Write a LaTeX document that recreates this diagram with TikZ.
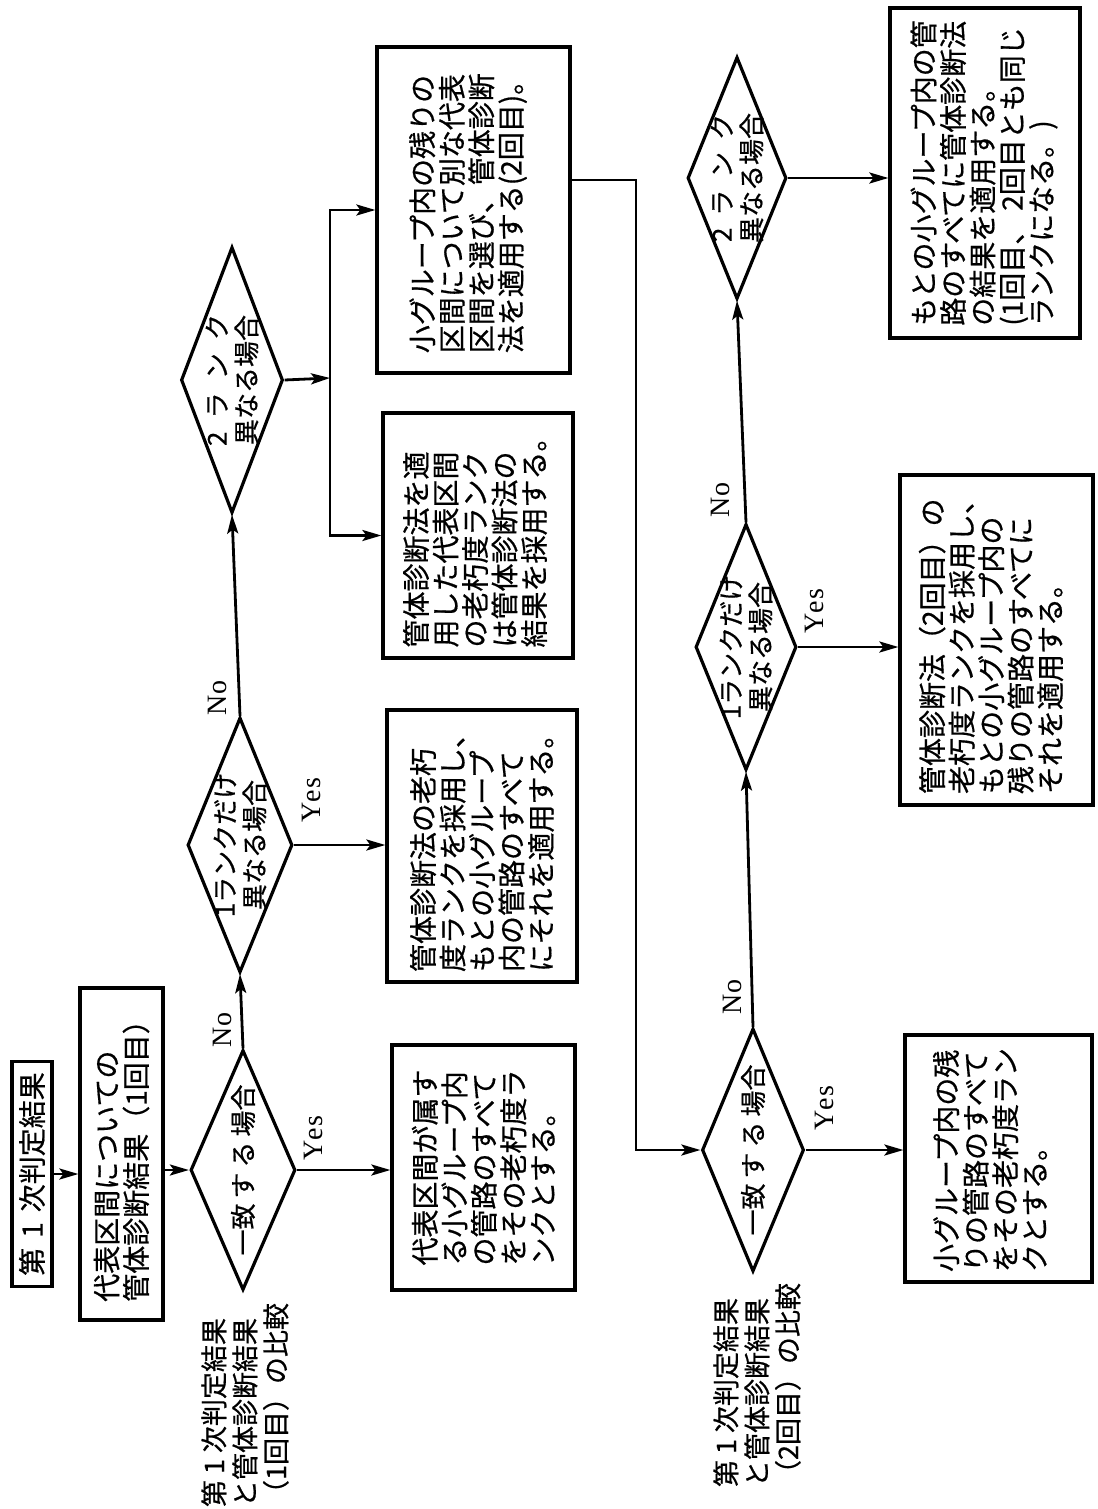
\documentclass[tikz,border=0pt]{standalone}
\usepackage{fontspec}
\newfontfamily\jpfam[FakeBold=0.6]{Noto Sans CJK JP}
\newfontfamily\latfam[LetterSpace=6]{Liberation Serif}
\usetikzlibrary{shapes.geometric,arrows.meta}
\newcommand\jptext{\jpfam\fontsize{28}{29.5}\selectfont}
\newcommand\jpdia{\jpfam\fontsize{26}{29.5}\selectfont}
\tikzset{
  frame/.style={draw, line width=3.2pt, rectangle, inner sep=0pt},
  dia/.style={draw, line width=3.2pt, diamond, inner sep=0pt},
  txt/.style={rotate=90, align=left, font=\jptext, inner sep=0pt},
  ctxt/.style={rotate=90, align=center, font=\jpdia, inner sep=0pt},
  lab/.style={rotate=90, font=\latfam\fontsize{28}{32}\selectfont, inner sep=0pt},
  arr/.style={line width=2.8pt, -{Stealth[length=19pt,width=11pt,inset=4pt]}}
}
\begin{document}
\begin{tikzpicture}[x=1pt,y=-1pt]
\useasboundingbox (0,0) rectangle (1097,1509);

% ---------- first row (left) ----------
\node[frame, minimum width=40pt, minimum height=225pt] (b1) at (32,1174) {};
\node[txt] (t1) at (b1) {第\hspace{10pt}1\hspace{10pt}次判定結果};

\node[frame, minimum width=83pt, minimum height=332pt] (b2) at (121.5,1154) {};
\node[txt] (t2) at (b2) {代表区間についての\\管体診断結果（1回目）};

\node[dia, minimum width=105pt, minimum height=240pt] (d1) at (243,1170) {};
\node[ctxt] (td1) at (d1) {一致\hspace{5pt}す\hspace{5pt}る\hspace{5pt}場合};
\node[txt, font=\jpfam\fontsize{27}{31}\selectfont] (l1) at (245,1405) {第\hspace{6pt}1\hspace{6pt}次判定結果\\と管体診断結果\\（1回目）の比較};

\node[frame, minimum width=183pt, minimum height=245pt] (b4) at (483.5,1167.5) {};
\node[txt] (t4) at (b4) {代表区間が属す\\る小グループ内\\の管路のすべて\\をその老朽度ラ\\ンクとする。};

\node[dia, minimum width=105pt, minimum height=255pt] (d2) at (240,845) {};
\node[ctxt] (td2) at (d2) {1ランクだけ\\異なる場合};

\node[frame, minimum width=190pt, minimum height=272pt] (b6) at (482,846) {};
\node[txt] (t6) at (b6) {管体診断法の老朽\\度ランクを採用し、\\もとの小グループ\\内の管路のすべて\\にそれを適用する。};

\node[dia, minimum width=102pt, minimum height=266pt] (d3) at (232,380) {};
\node[ctxt] (td3) at (d3) {\makebox[132pt]{2\hfill ラ\hfill ン\hfill ク}\\異なる場合};

\node[frame, minimum width=190pt, minimum height=245pt] (b7) at (478,535.5) {};
\node[txt] (t7) at (475,535.5) {管体診断法を適\\用した代表区間\\の老朽度ランク\\は管体診断法の\\結果を採用する。};

\node[frame, minimum width=193pt, minimum height=326pt] (b8) at (473.5,210) {};
\node[txt] (t8) at (468,210) {小グループ内の残りの\\区間について別な代表\\区間を選び、管体診断\\法を適用する(2回目)。};

% ---------- second row (right) ----------
\node[dia, minimum width=102pt, minimum height=243pt] (d4) at (753,1150) {};
\node[ctxt] (td4) at (d4) {一致\hspace{5pt}す\hspace{5pt}る\hspace{5pt}場合};
\node[txt, font=\jpfam\fontsize{27}{31}\selectfont] (l2) at (757,1385) {第\hspace{6pt}1\hspace{6pt}次判定結果\\と管体診断結果\\（2回目）の比較};

\node[frame, minimum width=187pt, minimum height=247pt] (b9) at (998.5,1158.5) {};
\node[txt] (t9) at (990,1160) {小グループ内の残\\りの管路のすべて\\をその老朽度ラン\\クとする。};

\node[dia, minimum width=101pt, minimum height=246pt] (d5) at (746,647) {};
\node[ctxt] (td5) at (d5) {1ランクだけ\\異なる場合};

\node[frame, minimum width=193pt, minimum height=330pt] (b11) at (996.5,640) {};
\node[txt] (t11) at (991,640) {管体診断法（2回目）の\\老朽度ランクを採用し、\\もとの小グループ内の\\残りの管路のすべてに\\それを適用する。};

\node[dia, minimum width=99pt, minimum height=242pt] (d6) at (737,178) {};
\node[ctxt] (td6) at (d6) {\makebox[128pt]{2\hfill ラ\hfill ン\hfill ク}\\異なる場合};

\node[frame, minimum width=190pt, minimum height=330pt] (b13) at (985,173) {};
\node[txt] (t13) at (984,173) {もとの小グループ内の管\\路のすべてに管体診断法\\の結果を適用する。\\(1回目、\hspace{6pt}2回目とも同じ\\ランクになる。)};

% ---------- labels ----------
\node[lab] (no1) at (222,1030) {No};
\node[lab] (yes1) at (313,1138) {Yes};
\node[lab] (no2) at (217,698) {No};
\node[lab] (yes2) at (311,800) {Yes};
\node[lab] (no4) at (732,997) {No};
\node[lab] (yes4) at (824,1108) {Yes};
\node[lab] (no5) at (720,500) {No};
\node[lab] (yes5) at (814,611) {Yes};

% ---------- connectors ----------
\coordinate (j) at (330,378);
\coordinate (c1) at (636,180);

\draw[arr] (b1.east) -- (b1.east -| b2.west);
\draw[arr] (b2.east |- d1) -- (d1.west);
\draw[arr] (d1.east) -- (d1.east -| b4.west);
\draw[arr] (d1.north) -- (d2.south);
\draw[arr] (d2.east) -- (d2.east -| b6.west);
\draw[arr] (d2.north) -- (d3.south);
\draw[arr] (d3.east) -- (j);
\draw[arr] (j) |- (b8.west);
\draw[arr] (j) |- (b7.west);
\draw[arr] ([yshift=30pt]b8.east) -- (c1) |- (d4.west);
\draw[arr] (d4.east) -- (d4.east -| b9.west);
\draw[arr] (d4.north) -- (d5.south);
\draw[arr] (d5.east) -- (d5.east -| b11.west);
\draw[arr] (d5.north) -- (d6.south);
\draw[arr] (d6.east) -- (d6.east -| b13.west);
\end{tikzpicture}
\end{document}
